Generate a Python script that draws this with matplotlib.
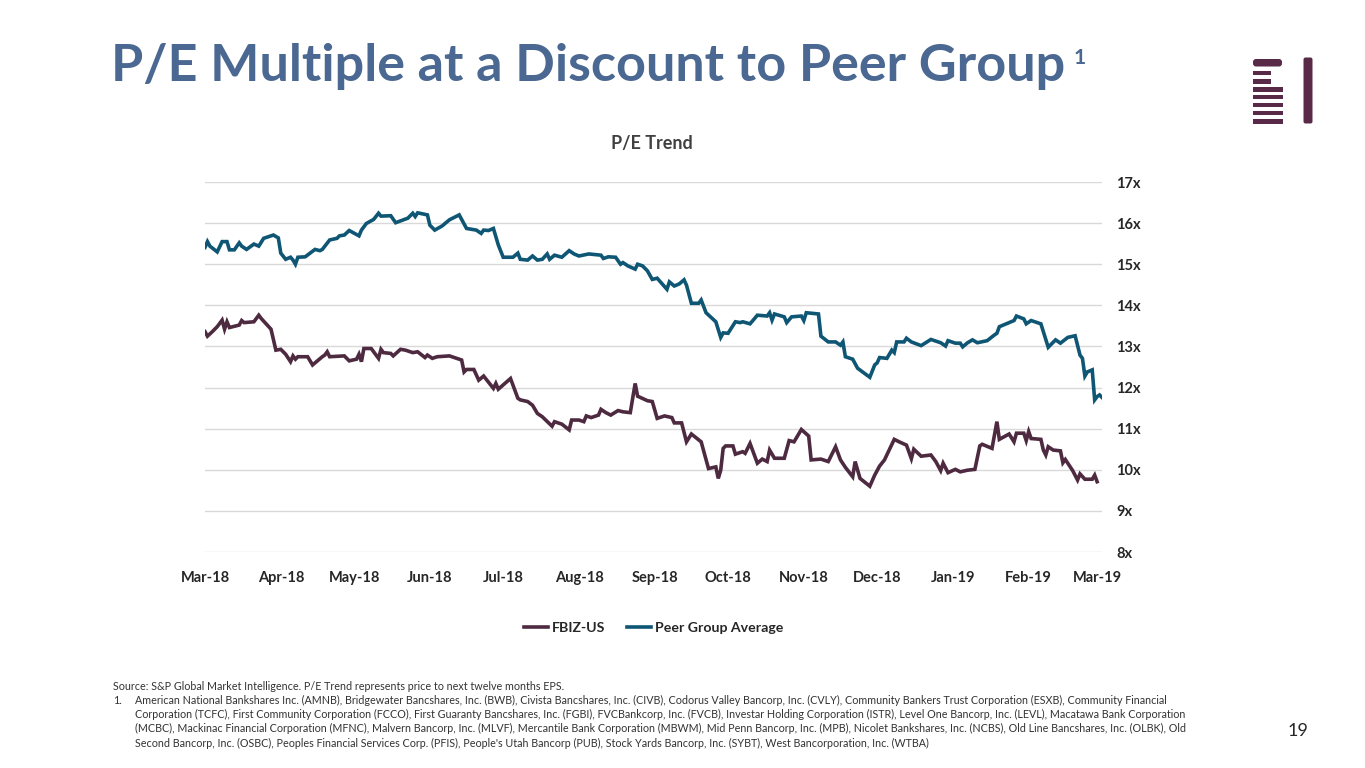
import matplotlib
matplotlib.use("Agg")
import matplotlib.pyplot as plt
import matplotlib.dates as mdates
import matplotlib.patches as mpatches
import pandas as pd

# Цвета
COLOR_FBIZ = "#4E2A40"
COLOR_PEER = "#0F5675"
COLOR_TITLE = "#4A6891"
COLOR_GRID = "#D9D9D9"
COLOR_TEXT = "#262626"
COLOR_LOGO = "#582A47"

START = pd.Timestamp("2018-03-01")

# Peer Group Average: дни от 01.03.2018 и P/E
peer_days = [0, 1, 2, 5, 7, 9, 10, 12, 14, 15, 17, 20, 22, 24, 28, 30, 31, 33, 35,
             36, 37, 38, 41, 45, 47, 48, 51, 54, 55, 57, 59, 63, 64, 66, 69, 71,
             72, 76, 78, 83, 85, 86, 87, 91, 92, 94, 97, 100, 104, 107, 111, 113,
             114, 116, 118, 120, 122, 126, 128, 129, 132, 134, 136, 138, 140, 141,
             143, 146, 149, 151, 153, 157, 162, 163, 165, 168, 170, 171, 173, 176,
             177, 179, 181, 183, 185, 189, 190, 192, 194, 196, 197, 199, 202, 203,
             205, 209, 211, 212, 214, 217, 219, 220, 223, 226, 230, 231, 232, 233,
             237, 238, 240, 244, 245, 246, 251, 252, 255, 258, 260, 261, 262, 265,
             267, 272, 274, 275, 276, 279, 281, 282, 283, 286, 287, 289, 293, 297,
             301, 303, 304, 307, 309, 310, 312, 314, 316, 320, 323, 324, 325, 329,
             331, 332, 335, 336, 338, 342, 345, 348, 350, 353, 356, 358, 359, 360,
             361, 363, 364, 365, 366, 367]
peer_pe = [15.41, 15.55, 15.44, 15.30, 15.55, 15.55, 15.35, 15.35, 15.52, 15.44,
           15.36, 15.49, 15.44, 15.63, 15.71, 15.64, 15.27, 15.12, 15.17, 15.10,
           15.00, 15.17, 15.18, 15.36, 15.33, 15.36, 15.59, 15.63, 15.69, 15.71,
           15.82, 15.69, 15.83, 15.99, 16.09, 16.24, 16.17, 16.18, 16.01, 16.12,
           16.24, 16.16, 16.25, 16.20, 15.95, 15.83, 15.93, 16.08, 16.20, 15.87,
           15.83, 15.75, 15.83, 15.82, 15.87, 15.47, 15.17, 15.17, 15.27, 15.12,
           15.10, 15.20, 15.10, 15.12, 15.25, 15.12, 15.22, 15.17, 15.33, 15.25,
           15.20, 15.25, 15.22, 15.14, 15.18, 15.17, 15.00, 15.04, 14.96, 14.88,
           15.00, 14.96, 14.84, 14.63, 14.66, 14.39, 14.57, 14.47, 14.52, 14.62,
           14.49, 14.05, 14.05, 14.13, 13.82, 13.60, 13.22, 13.33, 13.32, 13.60,
           13.58, 13.60, 13.55, 13.76, 13.74, 13.82, 13.64, 13.79, 13.72, 13.58,
           13.72, 13.74, 13.63, 13.82, 13.79, 13.25, 13.11, 13.11, 13.03, 13.11,
           12.75, 12.69, 12.47, 12.25, 12.55, 12.60, 12.73, 12.71, 12.91, 12.85,
           13.11, 13.11, 13.20, 13.11, 13.02, 13.17, 13.09, 13.01, 13.14, 13.08,
           13.08, 12.99, 13.09, 13.16, 13.09, 13.14, 13.28, 13.32, 13.48, 13.58,
           13.63, 13.74, 13.67, 13.55, 13.63, 13.55, 12.98, 13.16, 13.08, 13.22,
           13.26, 12.79, 12.71, 12.28, 12.38, 12.43, 11.70, 11.78, 11.82, 11.76]

# FBIZ-US
fbiz_days = [0, 1, 3, 5, 7, 8, 9, 10, 14, 15, 16, 20, 22, 23, 27, 29, 31, 33, 35,
             36, 37, 38, 42, 44, 48, 49, 50, 51, 57, 59, 62, 63, 64, 65, 68, 71,
             72, 73, 76, 77, 80, 82, 85, 87, 90, 91, 93, 95, 100, 102, 105, 106,
             107, 110, 112, 114, 118, 119, 120, 125, 128, 129, 132, 134, 136, 138,
             142, 143, 146, 149, 150, 153, 155, 156, 158, 161, 162, 164, 166, 169,
             171, 174, 176, 177, 181, 183, 185, 188, 191, 192, 195, 197, 199, 203,
             206, 209, 210, 211, 212, 213, 216, 217, 220, 221, 223, 226, 228, 230,
             231, 233, 237, 239, 241, 244, 247, 248, 252, 255, 258, 260, 262, 265,
             266, 268, 272, 274, 276, 278, 282, 284, 287, 289, 290, 293, 297, 299,
             301, 302, 304, 307, 309, 312, 315, 317, 318, 322, 324, 325, 329, 331,
             332, 335, 336, 337, 338, 342, 343, 344, 345, 347, 350, 351, 352, 355,
             357, 358, 360, 363, 364, 365]
fbiz_pe = [13.36, 13.25, 13.36, 13.48, 13.64, 13.42, 13.60, 13.46, 13.52, 13.63,
           13.58, 13.60, 13.76, 13.68, 13.42, 12.91, 12.93, 12.81, 12.63, 12.77,
           12.69, 12.75, 12.75, 12.55, 12.75, 12.79, 12.87, 12.75, 12.77, 12.65,
           12.69, 12.81, 12.63, 12.95, 12.95, 12.71, 12.93, 12.85, 12.83, 12.77,
           12.93, 12.91, 12.85, 12.87, 12.73, 12.79, 12.71, 12.75, 12.77, 12.73,
           12.67, 12.38, 12.44, 12.44, 12.18, 12.28, 11.98, 12.10, 11.96, 12.22,
           11.74, 11.70, 11.66, 11.57, 11.37, 11.29, 11.06, 11.17, 11.11, 10.97,
           11.21, 11.21, 11.17, 11.31, 11.27, 11.33, 11.47, 11.39, 11.33, 11.44,
           11.41, 11.39, 12.10, 11.79, 11.68, 11.66, 11.25, 11.31, 11.27, 11.14,
           11.14, 10.68, 10.87, 10.68, 10.03, 10.07, 9.79, 9.99, 10.52, 10.58,
           10.58, 10.38, 10.44, 10.40, 10.64, 10.16, 10.26, 10.20, 10.48, 10.28,
           10.28, 10.71, 10.68, 10.98, 10.82, 10.24, 10.26, 10.20, 10.56, 10.24,
           10.06, 9.83, 10.20, 9.79, 9.60, 9.87, 10.09, 10.24, 10.74, 10.68,
           10.60, 10.27, 10.50, 10.33, 10.36, 10.20, 9.98, 10.16, 9.93, 10.01,
           9.95, 9.99, 10.01, 10.58, 10.62, 10.52, 11.17, 10.74, 10.87, 10.68,
           10.89, 10.89, 10.71, 10.93, 10.76, 10.74, 10.48, 10.36, 10.56, 10.48,
           10.46, 10.17, 10.25, 9.98, 9.75, 9.90, 9.77, 9.77, 9.87, 9.71]

y_ticks = [8, 9, 10, 11, 12, 13, 14, 15, 16, 17]

footnotes = [
    "Source: S&P Global Market Intelligence. P/E Trend represents price to next twelve months EPS.",
    "American National Bankshares Inc. (AMNB), Bridgewater Bancshares, Inc. (BWB), Civista Bancshares, Inc. (CIVB), Codorus Valley Bancorp, Inc. (CVLY), Community Bankers Trust Corporation (ESXB), Community Financial",
    "Corporation (TCFC), First Community Corporation (FCCO), First Guaranty Bancshares, Inc. (FGBI), FVCBankcorp, Inc. (FVCB), Investar Holding Corporation (ISTR), Level One Bancorp, Inc. (LEVL), Macatawa Bank Corporation",
    "(MCBC), Mackinac Financial Corporation (MFNC), Malvern Bancorp, Inc. (MLVF), Mercantile Bank Corporation (MBWM), Mid Penn Bancorp, Inc. (MPB), Nicolet Bankshares, Inc. (NCBS), Old Line Bancshares, Inc. (OLBK), Old",
    "Second Bancorp, Inc. (OSBC), Peoples Financial Services Corp. (PFIS), People's Utah Bancorp (PUB), Stock Yards Bancorp, Inc. (SYBT), West Bancorporation, Inc. (WTBA)",
]

plt.rcParams["font.family"] = ["Lato", "DejaVu Sans"]

W, H = 1365, 768
fig = plt.figure(figsize=(W / 100, H / 100), dpi=100)
fig.patch.set_facecolor("white")


def fx(px):
    return px / W


def fy(py):
    return 1 - py / H


# ===== Заголовок слайда =====
fig.text(fx(111), fy(81), "P/E Multiple at a Discount to Peer Group",
         fontsize=37.5, fontweight="bold", color=COLOR_TITLE, va="baseline", ha="left")
fig.text(fx(1074), fy(64), "1", fontsize=15, fontweight="bold",
         color=COLOR_TITLE, va="baseline", ha="left")

# ===== Логотип =====
logo = fig.add_axes([0, 0, 1, 1], zorder=5)
logo.set_xlim(0, W)
logo.set_ylim(H, 0)
logo.axis("off")
logo.patch.set_alpha(0)
logo.add_patch(mpatches.FancyBboxPatch((1253, 59), 29, 7.5,
                                       boxstyle="round,pad=0,rounding_size=3",
                                       color=COLOR_LOGO, lw=0))
for y0, x1 in [(70.7, 1270.7), (79.3, 1270.7), (87.3, 1282.7), (95, 1282.7),
               (103, 1282.7), (111, 1282.7), (119.2, 1282.7)]:
    logo.add_patch(mpatches.Rectangle((1252.7, y0), x1 - 1252.7, 4.4,
                                      color=COLOR_LOGO, lw=0))
logo.add_patch(mpatches.FancyBboxPatch((1303.5, 57.5), 9, 66,
                                       boxstyle="round,pad=0,rounding_size=2",
                                       color=COLOR_LOGO, lw=0))

# ===== График =====
ax = fig.add_axes([fx(205), fy(552), fx(1102) - fx(205), fy(182) - fy(552)])
peer_dates = START + pd.to_timedelta(peer_days, unit="D")
fbiz_dates = START + pd.to_timedelta(fbiz_days, unit="D")

ax.plot(fbiz_dates, fbiz_pe, color=COLOR_FBIZ, lw=2.6, label="FBIZ-US",
        solid_joinstyle="miter", zorder=3)
ax.plot(peer_dates, peer_pe, color=COLOR_PEER, lw=2.6, label="Peer Group Average",
        solid_joinstyle="miter", zorder=3)

ax.set_xlim(START, START + pd.Timedelta(days=367))
ax.set_ylim(8, 17)
ax.set_yticks(y_ticks)
ax.set_yticklabels([f"{v}x" for v in y_ticks])
ax.yaxis.tick_right()
ax.grid(axis="y", color=COLOR_GRID, lw=1.0)
ax.set_axisbelow(True)
for s in ax.spines.values():
    s.set_visible(False)

ax.xaxis.set_major_locator(mdates.MonthLocator())
ax.xaxis.set_major_formatter(mdates.DateFormatter("%b-%y"))
ax.tick_params(axis="both", length=0, labelsize=10.5, colors=COLOR_TEXT)
ax.tick_params(axis="y", pad=10)
ax.tick_params(axis="x", pad=14)
for lab in ax.get_xticklabels() + ax.get_yticklabels():
    lab.set_fontweight("bold")

fig.text(fx(652), fy(143), "P/E Trend", fontsize=13, fontweight="bold",
         color="#404040", ha="center", va="center")

leg = ax.legend(loc="center", bbox_to_anchor=(0.5, -0.205), ncol=2, frameon=False,
                fontsize=10.2, handlelength=1.7, handletextpad=0.3, columnspacing=1.5)
for t in leg.get_texts():
    t.set_fontweight("bold")
    t.set_color(COLOR_TEXT)

# ===== Сноски =====
FN_SIZE = 7.75
fig.text(fx(113), fy(686), footnotes[0], fontsize=FN_SIZE, color="#333333", va="center")
fig.text(fx(113), fy(700), "1.", fontsize=FN_SIZE, color="#333333", va="center")
for i, line in enumerate(footnotes[1:]):
    fig.text(fx(135), fy(700 + i * 14.4), line, fontsize=FN_SIZE,
             color="#333333", va="center")

fig.text(fx(1298), fy(731), "19", fontsize=13, color=COLOR_TEXT,
         ha="center", va="center")

fig.savefig("out.png", dpi=100, facecolor="white")
